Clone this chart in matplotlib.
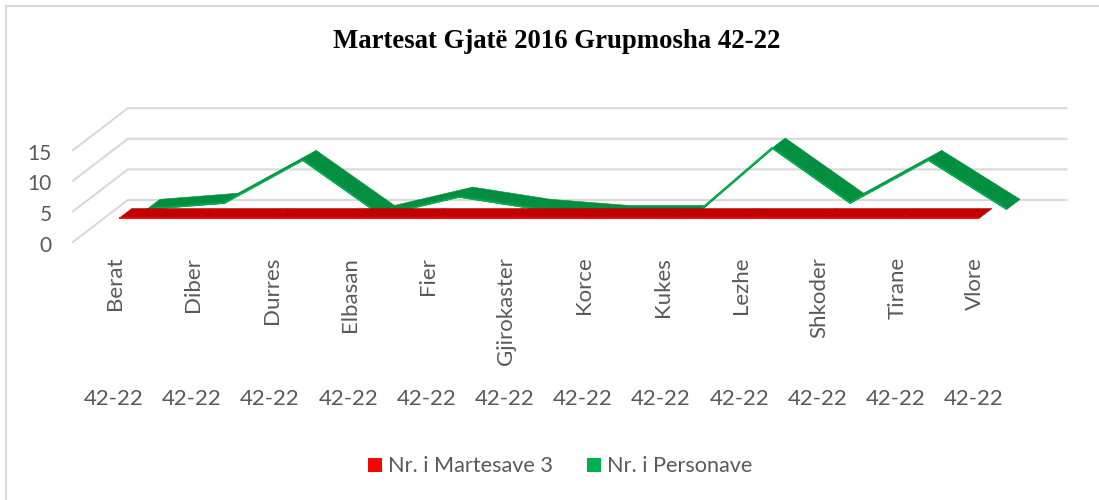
import matplotlib
matplotlib.use("Agg")
import matplotlib.pyplot as plt
from matplotlib.patches import Polygon, Rectangle

categories = ["Berat", "Diber", "Durres", "Elbasan", "Fier", "Gjirokaster",
              "Korce", "Kukes", "Lezhe", "Shkoder", "Tirane", "Vlore"]
group_labels = ["42-22"] * 12
martesa = [3] * 12
persona = [1, 2, 9, 0, 3, 1, 0, 0, 11, 2, 9, 1]
y_ticks = [0, 5, 10, 15]
grid_levels = [0, 5, 10, 15]

W, H = 1099, 500
CAT = 78.2
VAL = 6.12
DX = 55 / CAT
DY = 42 / VAL

fig = plt.figure(figsize=(W / 100, H / 100), dpi=100)
ax = fig.add_axes([0, 0, 1, 1])
ax.set_xlim(-112 / CAT, (W - 112) / CAT)
ax.set_ylim(-(H - 242) / VAL, 242 / VAL)
ax.axis("off")
ui = ["Lato", "DejaVu Sans"]
GREY = "#595959"


def proj(i, v, d):
    return i + DX * d, v + DY * d


def ribbon(values, d0, d1, top, edge, z):
    for i in range(len(values) - 1):
        a, b = values[i], values[i + 1]
        ax.add_patch(Polygon([proj(i, a, d0), proj(i + 1, b, d0),
                              proj(i + 1, b, d1), proj(i, a, d1)],
                             closed=True, fc=top, ec=top, lw=0.4, zorder=z))
    xs, ys = zip(*[proj(i, v, d0) for i, v in enumerate(values)])
    ax.plot(xs, [y + 0.1 for y in ys], color=edge, lw=1.2, zorder=z + 0.1,
            solid_joinstyle="miter", solid_capstyle="butt")


for g in grid_levels:
    l, r = -0.5, 11.5
    xs = [l, l + DX, r + DX]
    ys = [g, g + DY, g + DY]
    ax.plot(xs, ys, color="#d9d9d9", lw=1.5, zorder=1, solid_joinstyle="miter")

ribbon(persona, 0.625, 0.87, "#048f40", "#00b050", 3)
ribbon(martesa, 0.13, 0.36, "#c00000", "#ff0000", 4)

for t in y_ticks:
    ax.text(-0.77, t - 0.6, str(t), ha="right", va="center", fontsize=15,
            color=GREY, family=ui)
for i, c in enumerate(categories):
    ax.text(i + 0.04, -2.4, c, rotation=90, ha="center", va="top", fontsize=16,
            color=GREY, family=ui)
for i, c in enumerate(group_labels):
    ax.text(i + 0.02, -25.6, c, ha="center", va="center", fontsize=16,
            color=GREY, family=ui)

tr = ax.transAxes
ax.plot([6 / W, 6 / W, 1], [0, 1 - 6 / H, 1 - 6 / H], transform=tr,
        color="#d9d9d9", lw=1.5, solid_joinstyle="miter")
ax.text(556.5 / W, 1 - 42 / H, "Martesat Gjatë 2016 Grupmosha 42-22", transform=tr,
        ha="center", va="center", fontsize=19.3, fontweight="bold",
        family="Liberation Serif", color="black")
for x0, col, lab in [(368, "#ff0000", "Nr. i Martesave 3"), (587, "#00b050", "Nr. i Personave")]:
    ax.add_patch(Rectangle((x0 / W, 1 - 472 / H), 14 / W, 14 / H, transform=tr,
                           fc=col, ec="none", zorder=5))
    ax.text((x0 + 20) / W, 1 - 465.5 / H, lab, transform=tr, ha="left", va="center",
            fontsize=15.6, color=GREY, family=ui)

fig.savefig("out.png", dpi=100, facecolor="white")
